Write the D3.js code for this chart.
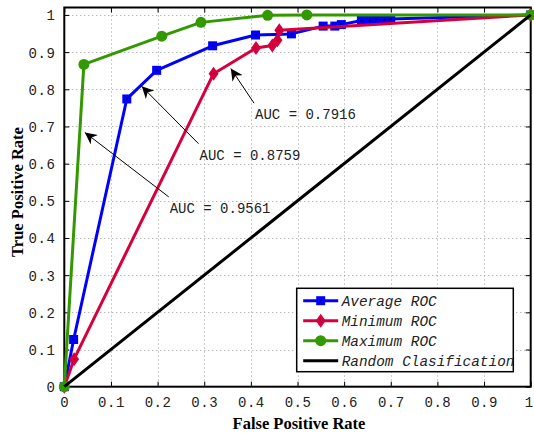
<!DOCTYPE html>
<html><head><meta charset="utf-8">
<script src="https://cdn.jsdelivr.net/npm/d3@7"></script>
<style>
html,body{margin:0;padding:0;background:#fff;}
svg{display:block;}
</style></head>
<body>
<svg id="chart" width="534" height="434"></svg>
<script>
// ---- data ----
const avgFPR = [0, 0.02, 0.134, 0.198, 0.318, 0.41, 0.487, 0.555, 0.58, 0.594, 0.637, 0.655, 0.669, 0.686, 0.70, 1];
const avgTPR = [0, 0.127, 0.774, 0.851, 0.917, 0.946, 0.949, 0.970, 0.970, 0.974, 0.985, 0.985, 0.988, 0.988, 0.989, 1];
const minFPR = [0, 0.021, 0.32, 0.411, 0.446, 0.457, 0.461, 1];
const minTPR = [0, 0.074, 0.842, 0.911, 0.918, 0.932, 0.959, 1];
const maxFPR = [0, 0.042, 0.209, 0.293, 0.436, 0.52, 1];
const maxTPR = [0, 0.867, 0.943, 0.980, 0.999, 1.0, 1];
const randFPR = [0, 1];
const randTPR = [0, 1];
const seriesNames = ["Average ROC", "Minimum ROC", "Maximum ROC", "Random Clasification"];
const xTicks = [0, 0.1, 0.2, 0.3, 0.4, 0.5, 0.6, 0.7, 0.8, 0.9, 1];
const yTicks = [0, 0.1, 0.2, 0.3, 0.4, 0.5, 0.6, 0.7, 0.8, 0.9, 1];
const aucLabels = ["AUC = 0.7916", "AUC = 0.8759", "AUC = 0.9561"];
// annotation anchors in data units: [textX, textY], [arrowTipX, arrowTipY]
const aucTextPos = [[0.409, 0.733], [0.290, 0.624], [0.226, 0.481]];
const aucTipPos = [[0.357, 0.856], [0.166, 0.808], [0.044, 0.684]];

// ---- layout ----
const L = 64.3, R = 530.7, T = 7.5, B = 386.7;
const x = d3.scaleLinear().domain([0, 1]).range([L, R]);
const y = d3.scaleLinear().domain([0, 1.02]).range([B, T]);
const svg = d3.select("#chart");
const mono = "'Courier New', 'Liberation Mono', 'DejaVu Sans Mono', monospace";

// grid
const grid = svg.append("g").attr("stroke", "#9a9a9a").attr("stroke-width", 1)
  .attr("stroke-dasharray", "1,3");
xTicks.slice(1, -1).forEach(t => grid.append("line")
  .attr("x1", Math.round(x(t)) + 0.5).attr("x2", Math.round(x(t)) + 0.5).attr("y1", T).attr("y2", B));
yTicks.slice(1).forEach(t => grid.append("line")
  .attr("y1", Math.round(y(t)) + 0.5).attr("y2", Math.round(y(t)) + 0.5).attr("x1", L).attr("x2", R));

// axes
const axB = d3.axisBottom(x).tickValues(xTicks).tickFormat(d => d3.format("~g")(d)).tickSizeInner(-5).tickSizeOuter(0).tickPadding(10);
const axL = d3.axisLeft(y).tickValues(yTicks).tickFormat(d => d3.format("~g")(d)).tickSizeInner(-5).tickSizeOuter(0).tickPadding(9);
const axT = d3.axisTop(x).tickValues(xTicks).tickFormat("").tickSizeInner(-5).tickSizeOuter(0);
const axR = d3.axisRight(y).tickValues(yTicks).tickFormat("").tickSizeInner(-5).tickSizeOuter(0);
function styleAxis(g) {
  g.select(".domain").remove();
  g.selectAll("line").attr("stroke", "#000");
  g.selectAll("text").attr("font-family", mono).attr("font-size", 14).attr("fill", "#222")
    .attr("letter-spacing", "0.5px");
}
const gB = svg.append("g").attr("transform", `translate(0,${B})`).call(axB).call(styleAxis);
gB.selectAll("text").filter(d => d === 1).attr("dx", -2);
svg.append("g").attr("transform", `translate(${L},0)`).call(axL).call(styleAxis)
  .selectAll("text").attr("dy", "0.35em");
svg.append("g").attr("transform", `translate(0,${T})`).call(axT).call(styleAxis);
svg.append("g").attr("transform", `translate(${R},0)`).call(axR).call(styleAxis);

// frame
svg.append("rect").attr("x", L).attr("y", T).attr("width", R - L).attr("height", B - T)
  .attr("fill", "none").attr("stroke", "#000").attr("stroke-width", 2);

// series
const line = d3.line().x(d => x(d[0])).y(d => y(d[1]));
const series = [
  {name: seriesNames[0], xs: avgFPR, ys: avgTPR, color: "#0000ff", marker: "square"},
  {name: seriesNames[1], xs: minFPR, ys: minTPR, color: "#d8003c", marker: "diamond"},
  {name: seriesNames[2], xs: maxFPR, ys: maxTPR, color: "#339900", marker: "circle"},
  {name: seriesNames[3], xs: randFPR, ys: randTPR, color: "#000000", marker: null}
];
function drawMarker(g, type, cx, cy, color) {
  if (type === "square") {
    g.append("rect").attr("x", cx - 4.5).attr("y", cy - 4.5).attr("width", 9).attr("height", 9).attr("fill", color);
    g.append("rect").attr("x", cx - 1).attr("y", cy - 1).attr("width", 2).attr("height", 2).attr("fill", "#000066");
  } else if (type === "diamond") {
    g.append("path").attr("d", `M${cx},${cy - 7}L${cx + 5},${cy}L${cx},${cy + 7}L${cx - 5},${cy}Z`).attr("fill", color);
    g.append("rect").attr("x", cx - 1).attr("y", cy - 1).attr("width", 2).attr("height", 2).attr("fill", "#a0004a");
  } else if (type === "circle") {
    g.append("circle").attr("cx", cx).attr("cy", cy).attr("r", 5.5).attr("fill", color);
  }
}
series.forEach(s => {
  const pts = s.xs.map((v, i) => [v, s.ys[i]]);
  const g = svg.append("g");
  g.append("path").datum(pts).attr("d", line).attr("fill", "none")
    .attr("stroke", s.color).attr("stroke-width", 3).attr("stroke-linejoin", "round");
  if (s.marker) pts.forEach(p => drawMarker(g, s.marker, x(p[0]), y(p[1]), s.color));
});

// annotations
const defs = svg.append("defs");
defs.append("marker").attr("id", "arr").attr("viewBox", "0 0 10 10").attr("refX", 10).attr("refY", 5)
  .attr("markerWidth", 12).attr("markerHeight", 12).attr("markerUnits", "userSpaceOnUse").attr("orient", "auto")
  .append("path").attr("d", "M0,0L10,5L0,10L3,5Z").attr("fill", "#000");
aucLabels.forEach((lab, i) => {
  const [tx, ty] = aucTextPos[i];
  const [ax, ay] = aucTipPos[i];
  svg.append("line").attr("x1", x(tx) - 1).attr("y1", y(ty) - 11).attr("x2", x(ax)).attr("y2", y(ay))
    .attr("stroke", "#000").attr("stroke-width", 1).attr("marker-end", "url(#arr)");
  svg.append("text").attr("x", x(tx)).attr("y", y(ty)).attr("dy", "0.35em")
    .attr("font-family", mono).attr("font-size", 14).attr("fill", "#222").text(lab);
});

// legend
const lg = svg.append("g");
const LX = 296.7, LY = 288.3, LW = 216.6, LH = 83.4;
lg.append("rect").attr("x", LX).attr("y", LY).attr("width", LW).attr("height", LH)
  .attr("fill", "#fff").attr("stroke", "#000").attr("stroke-width", 1.5);
series.forEach((s, i) => {
  const cy = LY + 12.4 + i * 20;
  lg.append("line").attr("x1", LX + 6.5).attr("x2", LX + 41.5).attr("y1", cy).attr("y2", cy)
    .attr("stroke", s.color).attr("stroke-width", 3);
  if (s.marker) drawMarker(lg, s.marker, LX + 24, cy, s.color);
  lg.append("text").attr("x", LX + 45).attr("y", cy).attr("dy", "0.35em")
    .attr("font-family", mono).attr("font-style", "italic").attr("font-size", 14.4).attr("fill", "#222").text(s.name);
});

// axis titles
const serif = "'Times New Roman', 'Liberation Serif', 'DejaVu Serif', serif";
svg.append("text").attr("x", 299).attr("y", 429).attr("text-anchor", "middle")
  .attr("font-family", serif).attr("font-weight", "bold").attr("font-size", 16.5).text("False Positive Rate");
svg.append("text").attr("transform", "translate(23,192) rotate(-90)").attr("text-anchor", "middle")
  .attr("font-family", serif).attr("font-weight", "bold").attr("font-size", 16.5).text("True Positive Rate");
</script>
</body></html>
